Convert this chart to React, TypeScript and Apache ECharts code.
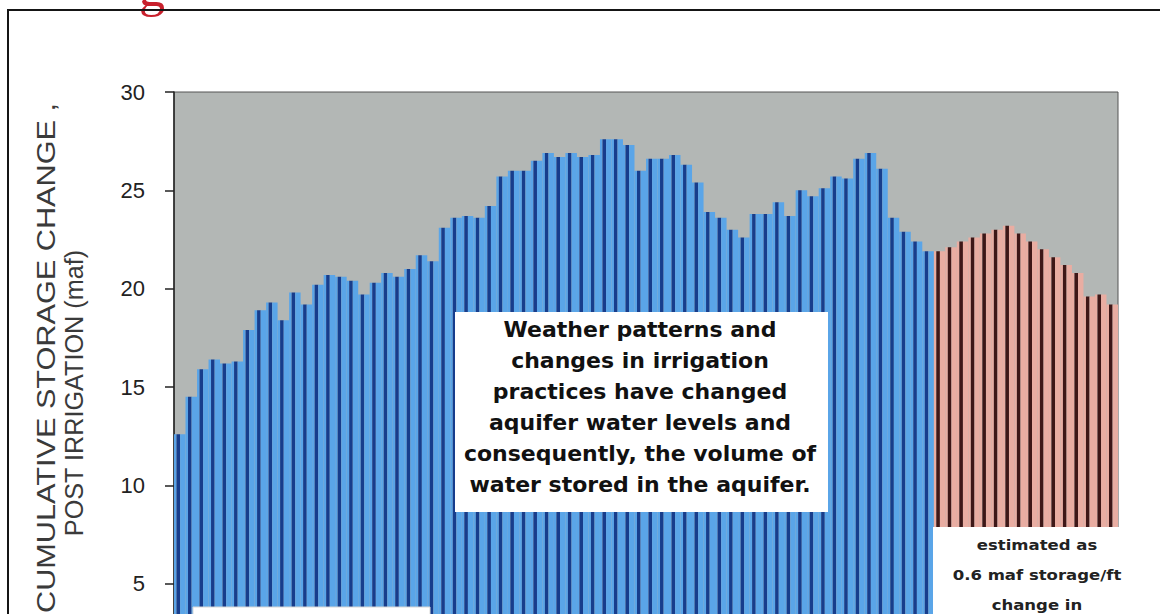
import React, { useEffect, useRef } from "react";
import * as echarts from "echarts";

// Cumulative storage change, post irrigation (maf) — measured record
const measuredValues = [
  12.6, 14.5, 15.9, 16.4, 16.2, 16.3, 17.9, 18.9, 19.3, 18.4, 19.8, 19.2, 20.2, 20.7, 20.6, 20.4,
  19.7, 20.3, 20.8, 20.6, 21.0, 21.7, 21.4, 23.1, 23.6, 23.7, 23.6, 24.2, 25.7, 26.0, 26.0, 26.5, 26.9,
  26.7, 26.9, 26.7, 26.8, 27.6, 27.6, 27.3, 26.0, 26.6, 26.6, 26.8, 26.3, 25.4, 23.9, 23.6, 23.0,
  22.6, 23.8, 23.8, 24.4, 23.7, 25.0, 24.7, 25.1, 25.7, 25.6, 26.6, 26.9, 26.1, 23.6, 22.9, 22.4, 21.9,
];
// Estimated record (0.6 maf storage/ft change)
const estimatedValues = [
  21.9, 22.1, 22.4, 22.6, 22.8, 23.0, 23.2, 22.8, 22.4, 22.0, 21.6, 21.2, 20.8, 19.6, 19.7, 19.2,
];
const categories = Array.from(
  { length: measuredValues.length + estimatedValues.length },
  (_, i) => String(i + 1)
);
const yAxisTitleLines = ["CUMULATIVE STORAGE CHANGE ,", "POST IRRIGATION (maf)"];
const noteLines = [
  "Weather patterns and",
  "changes in irrigation",
  "practices have changed",
  "aquifer water levels and",
  "consequently, the volume of",
  "water stored in the aquifer.",
];
const estimateLines = ["estimated as", "0.6 maf storage/ft", "change in"];

const BLUE_LIGHT = "#5aa5e8";
const BLUE_DARK = "#173d8c";
const RED_LIGHT = "#e9ada2";
const RED_DARK = "#3e1717";

export default function App() {
  const ref = useRef<HTMLDivElement>(null);

  useEffect(() => {
    if (!ref.current) return;
    const chart = echarts.init(ref.current, undefined, { renderer: "svg" });
    const all = [...measuredValues, ...estimatedValues];
    const isEst = (i: number) => i >= measuredValues.length;
    const mk = (light: boolean) =>
      all.map((v, i) => ({
        value: v,
        itemStyle: {
          color: isEst(i) ? (light ? RED_LIGHT : RED_DARK) : light ? BLUE_LIGHT : BLUE_DARK,
        },
      }));

    const textEl = (
      text: string,
      x: number,
      y: number,
      opts: any = {},
      extra: any = {}
    ) => ({
      type: "text",
      x,
      y,
      z: 110,
      ...extra,
      style: {
        text,
        align: "center",
        verticalAlign: "middle",
        textAlign: "center",
        textVerticalAlign: "middle",
        ...opts,
      },
    });

    const graphics: any[] = [
      // frame
      {
        type: "rect",
        z: 120,
        shape: { x: 8, y: 10, width: 1400, height: 900 },
        style: { fill: "transparent", stroke: "#151515", lineWidth: 2 },
      },
      // red title fragment (mostly above the page)
      textEl("g", 152, -12, {
        fontSize: 52,
        fontFamily: "Liberation Serif",
        fill: "#c8202c",
      }),
      // y-axis title
      textEl(
        yAxisTitleLines[0],
        46,
        358,
        { fontSize: 26, fontFamily: "Liberation Sans", fill: "#3a3a3a" },
        { rotation: Math.PI / 2, scaleX: 1.18 }
      ),
      textEl(
        yAxisTitleLines[1],
        74,
        393,
        { fontSize: 26, fontFamily: "Liberation Sans", fill: "#3a3a3a" },
        { rotation: Math.PI / 2, scaleX: 0.97 }
      ),
      // note box
      {
        type: "rect",
        z: 105,
        shape: { x: 455, y: 312, width: 373, height: 200 },
        style: { fill: "#ffffff" },
      },
      ...noteLines.map((t, i) =>
        textEl(t, 640, 329 + i * 31, {
          fontSize: 22,
          fontWeight: "bold",
          fontFamily: "DejaVu Sans",
          fill: "#111111",
        })
      ),
      // estimate box
      {
        type: "rect",
        z: 105,
        shape: { x: 933, y: 527, width: 240, height: 100 },
        style: { fill: "#ffffff" },
      },
      ...estimateLines.map((t, i) =>
        textEl(
          t,
          1037,
          545 + i * 30,
          { fontSize: 14, fontWeight: "bold", fontFamily: "DejaVu Sans", fill: "#222222" },
          { scaleX: 1.18 }
        )
      ),
      // bottom-left box
      {
        type: "rect",
        z: 105,
        shape: { x: 193, y: 607, width: 237, height: 20 },
        style: { fill: "#ffffff", stroke: "#d8d8d8", lineWidth: 1 },
      },
    ];

    chart.setOption({
      animation: false,
      backgroundColor: "#ffffff",
      grid: {
        left: 174,
        right: 42,
        top: 92,
        height: 590,
        outerBoundsMode: "none",
        containLabel: false,
        show: true,
        backgroundColor: "#b3b7b5",
        borderColor: "#555555",
        borderWidth: 1,
      },
      xAxis: {
        type: "category",
        data: categories,
        axisLine: { show: false },
        axisTick: { show: false },
        axisLabel: { show: false },
      },
      yAxis: {
        type: "value",
        min: 0,
        max: 30,
        interval: 5,
        axisLine: { show: true, lineStyle: { color: "#222222", width: 1.5 } },
        axisTick: { show: true, length: 9, lineStyle: { color: "#222222", width: 1.5 } },
        axisLabel: {
          fontSize: 22,
          color: "#222222",
          margin: 29,
          fontFamily: "Liberation Sans",
          showMinLabel: false,
        },
        splitLine: { show: false },
      },
      series: [
        { type: "bar", name: "fill-left", data: mk(true), barWidth: 2.5, barGap: "0%" },
        { type: "bar", name: "edge", data: mk(false), barWidth: 3.6, barGap: "0%" },
        { type: "bar", name: "fill-right", data: mk(true), barWidth: 5.4, barGap: "0%" },
      ],
      graphic: graphics,
    });

    return () => chart.dispose();
  }, []);

  return (
    <div
      ref={ref}
      style={{ position: "absolute", left: 0, top: 0, width: 1160, height: 614, background: "#fff" }}
    />
  );
}
